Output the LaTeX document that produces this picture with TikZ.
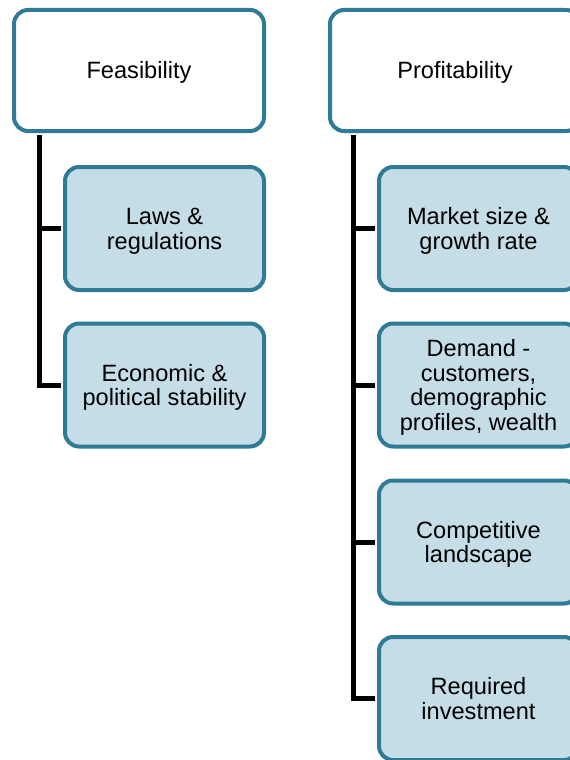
\documentclass[tikz,border=0pt]{standalone}
\usepackage{fontspec}
\setmainfont{Liberation Sans}
\definecolor{bordc}{HTML}{2F7A97}
\definecolor{fillc}{HTML}{C5DDE6}
\newcommand\boxtxt[1]{\raisebox{0pt}[\dimexpr\height+3.5pt\relax][\dimexpr\depth-3.5pt\relax]{\renewcommand\arraystretch{1}\begin{tabular}{@{}c@{}}#1\end{tabular}}}
\begin{document}
\begin{tikzpicture}[x=1pt,y=-1pt,
  parentbox/.style={draw=bordc,line width=4pt,fill=white,rounded corners=14pt,
    minimum width=250pt,minimum height=121pt,inner sep=0pt,
    font=\fontsize{23.6pt}{24.5pt}\selectfont},
  childbox/.style={draw=bordc,line width=4pt,fill=fillc,rounded corners=14pt,
    minimum width=199pt,minimum height=123pt,inner sep=0pt,
    font=\fontsize{23.6pt}{24.5pt}\selectfont},
  link/.style={draw=black,line width=5pt,line join=miter}]
\useasboundingbox (0,0) rectangle (570,760);
\clip (0,0) rectangle (570,760);
\fill[white] (0,0) rectangle (570,760);
% left column
\node[parentbox] (F) at (139,70.5) {\boxtxt{Feasibility}};
\node[childbox] (L) at (164.5,228.5) {\boxtxt{Laws \&\\regulations}};
\node[childbox] (E) at (164.5,385) {\boxtxt{Economic \&\\political stability}};
% right column
\node[parentbox] (P) at (455,70.5) {\boxtxt{Profitability}};
\node[childbox] (M) at (478.5,228.5) {\boxtxt{Market size \&\\growth rate}};
\node[childbox] (D) at (478.5,385) {\boxtxt{Demand -\\customers,\\demographic\\profiles, wealth}};
\node[childbox] (C) at (478.5,542) {\boxtxt{Competitive\\landscape}};
\node[childbox] (R) at (478.5,698.5) {\boxtxt{Required\\investment}};
% connectors
\coordinate (Fs) at ([xshift=27pt,yshift=-2pt]F.south west);
\coordinate (Ps) at ([xshift=25pt,yshift=-2pt]P.south west);
\draw[link] (Fs) |- ([xshift=-2pt]L.west);
\draw[link] (Fs) |- ([xshift=-2pt]E.west);
\draw[link] (Ps) |- ([xshift=-2pt]M.west);
\draw[link] (Ps) |- ([xshift=-2pt]D.west);
\draw[link] (Ps) |- ([xshift=-2pt]C.west);
\draw[link] (Ps) |- ([xshift=-2pt]R.west);
\end{tikzpicture}
\end{document}
